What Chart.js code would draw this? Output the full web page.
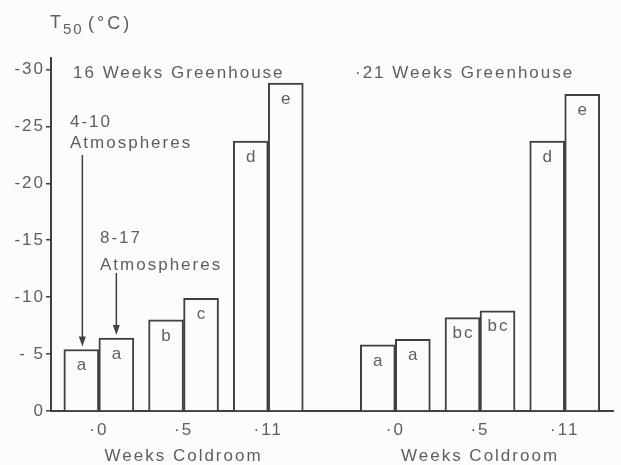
<!DOCTYPE html>
<html>
<head>
<meta charset="utf-8">
<script src="https://cdn.jsdelivr.net/npm/chart.js@4.4.1/dist/chart.umd.min.js"></script>
<style>
html, body { margin: 0; padding: 0; background: #fcfcfc; }
canvas { display: block; }
</style>
</head>
<body>
<canvas id="grafico" width="621" height="465"></canvas>
<script>
// Datos (T50 en °C, mostrado como valor positivo hacia arriba)
const semanasCamara = ['0', '5', '11'];
const grupos = ['16 Weeks Greenhouse', '·21 Weeks Greenhouse'];
const invernadero16_4a10 = [5.4, 8.0, 23.7];
const invernadero16_8a17 = [6.4, 9.9, 28.8];
const invernadero21_4a10 = [5.8, 8.2, 23.7];
const invernadero21_8a17 = [6.3, 8.8, 27.8];
const letras16_4a10 = ['a', 'b', 'd'];
const letras16_8a17 = ['a', 'c', 'e'];
const letras21_4a10 = ['a', 'bc', 'd'];
const letras21_8a17 = ['a', 'bc', 'e'];
const valoresEjeY = [0, 5, 10, 15, 20, 25, 30];
const etiquetasEjeY = ['0', '- 5', '-10', '-15', '-20', '-25', '-30'];

// Posiciones de cada pareja de barras en el eje x (dos grupos de tres)
const posiciones = [0, 2, 4, 7, 9, 11];

const colorTexto = '#5e5e5e';
const colorLinea = '#404040';
const fuente = '17px "Liberation Sans", Arial, sans-serif';

const etiquetasX = [...semanasCamara, ...semanasCamara].map(s => '·' + s);

function armarDatos(valores) {
    return posiciones.map((x, i) => ({ x: x, y: valores[i] }));
}

function dibujarFlecha(ctx, x, y1, y2) {
    ctx.beginPath();
    ctx.moveTo(x, y1);
    ctx.lineTo(x, y2 - 6);
    ctx.stroke();
    ctx.beginPath();
    ctx.moveTo(x - 3.5, y2 - 10);
    ctx.lineTo(x + 3.5, y2 - 10);
    ctx.lineTo(x, y2);
    ctx.closePath();
    ctx.fill();
}

// Plugin para textos, letras y flechas
const textos = {
    id: 'textos',
    beforeDraw(chart) {
        const ctx = chart.ctx;
        ctx.save();
        ctx.fillStyle = '#fcfcfc';
        ctx.fillRect(0, 0, chart.width, chart.height);
        ctx.restore();
        ctx.letterSpacing = '2px';
    },
    afterDatasetsDraw(chart) {
        const ctx = chart.ctx;
        ctx.save();
        ctx.letterSpacing = '2px';
        ctx.fillStyle = colorTexto;
        ctx.font = fuente;

        // Letras dentro de las barras
        ctx.textAlign = 'center';
        ctx.textBaseline = 'middle';
        chart.data.datasets.forEach((ds, i) => {
            chart.getDatasetMeta(i).data.forEach((barra, j) => {
                ctx.fillText(ds.letras[j], barra.x + 1, barra.y + 16);
            });
        });

        // Titulo del eje y
        ctx.textAlign = 'left';
        ctx.textBaseline = 'alphabetic';
        ctx.font = '18px "Liberation Sans", Arial, sans-serif';
        ctx.fillText('T', 50, 28);
        ctx.font = '15px "Liberation Sans", Arial, sans-serif';
        ctx.fillText('50', 63, 34);
        ctx.font = '18px "Liberation Sans", Arial, sans-serif';
        ctx.letterSpacing = '3px';
        ctx.fillText('(°C)', 88, 29);
        ctx.letterSpacing = '2px';

        // Titulos de los grupos
        ctx.font = fuente;
        ctx.fillText(grupos[0], 73, 78);
        ctx.fillText(grupos[1], 355, 78);

        // Anotaciones de atmosferas
        ctx.fillText('4-10', 70, 127);
        ctx.fillText('Atmospheres', 70, 148);
        ctx.fillText('8-17', 100, 243);
        ctx.fillText('Atmospheres', 100, 270);

        // Titulos del eje x
        const meta0 = chart.getDatasetMeta(0).data;
        const meta1 = chart.getDatasetMeta(1).data;
        ctx.textAlign = 'center';
        ctx.fillText('Weeks Coldroom', (meta0[1].x + meta1[1].x) / 2, 461);
        ctx.fillText('Weeks Coldroom', (meta0[4].x + meta1[4].x) / 2, 461);

        // Flechas
        ctx.strokeStyle = colorLinea;
        ctx.fillStyle = colorLinea;
        ctx.lineWidth = 1.5;
        dibujarFlecha(ctx, meta0[0].x + 1, 155, meta0[0].y - 3);
        dibujarFlecha(ctx, meta1[0].x, 273, meta1[0].y - 3);
        ctx.restore();
    }
};

const grafico = document.getElementById('grafico').getContext('2d');

window.graficaT50 = new Chart(grafico, {
    type: 'bar',
    data: {
        datasets: [{
            label: '4-10 Atmospheres',
            data: armarDatos([...invernadero16_4a10, ...invernadero21_4a10]),
            letras: [...letras16_4a10, ...letras21_4a10],
            backgroundColor: '#fcfcfc',
            borderColor: colorLinea,
            borderWidth: 2,
            borderSkipped: 'bottom'
        }, {
            label: '8-17 Atmospheres',
            data: armarDatos([...invernadero16_8a17, ...invernadero21_8a17]),
            letras: [...letras16_8a17, ...letras21_8a17],
            backgroundColor: '#fcfcfc',
            borderColor: colorLinea,
            borderWidth: 2,
            borderSkipped: 'bottom'
        }]
    },
    options: {
        responsive: false,
        animation: false,
        barThickness: 35,
        layout: { padding: { top: 58, right: 8, left: 0, bottom: 0 } },
        scales: {
            x: {
                type: 'linear',
                offset: false,
                min: -1.13,
                max: 12.14,
                afterBuildTicks(scale) {
                    scale.ticks = posiciones.map(v => ({ value: v }));
                },
                afterFit(scale) { scale.height = 54; },
                grid: { display: false, drawTicks: false, offset: false },
                border: { display: true, color: colorLinea, width: 2 },
                ticks: {
                    padding: 9,
                    maxRotation: 0,
                    autoSkip: false,
                    color: colorTexto,
                    font: { family: '"Liberation Sans", Arial, sans-serif', size: 17 },
                    callback: (valor, indice) => etiquetasX[indice]
                }
            },
            y: {
                min: 0,
                max: 31,
                afterBuildTicks(scale) {
                    scale.ticks = valoresEjeY.map(v => ({ value: v }));
                },
                afterFit(scale) { scale.width = 51; },
                grid: { drawOnChartArea: false, drawTicks: true, tickLength: 5, color: colorLinea, lineWidth: 1.5 },
                border: { display: true, color: colorLinea, width: 2 },
                ticks: {
                    padding: 1,
                    color: colorTexto,
                    font: { family: '"Liberation Sans", Arial, sans-serif', size: 17 },
                    callback: (valor, indice) => etiquetasEjeY[indice]
                }
            }
        },
        plugins: {
            legend: { display: false },
            tooltip: { enabled: false }
        }
    },
    plugins: [textos]
});
</script>
</body>
</html>
